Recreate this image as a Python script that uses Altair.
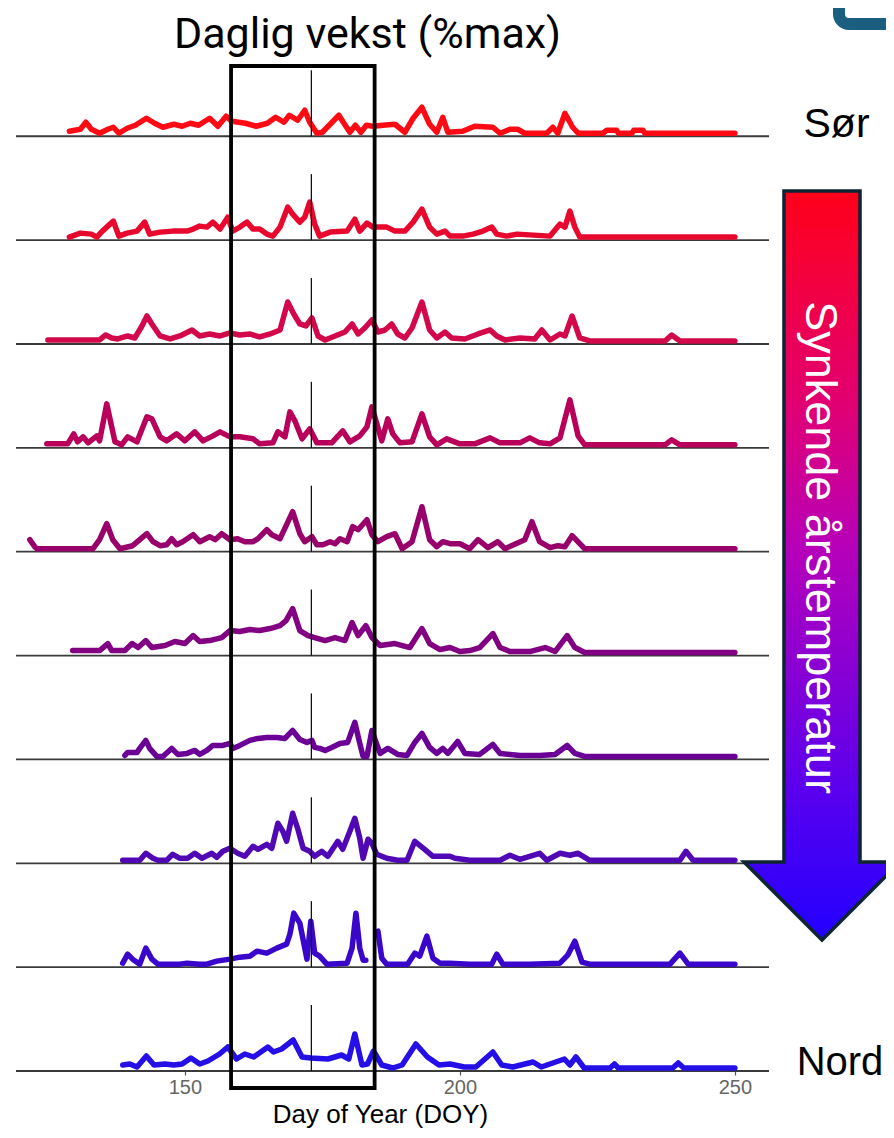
import altair as alt
import pandas as pd

# ---------------- data ----------------
DOY_TICKS = [150, 200, 250]
X_DOMAIN = [119.3, 256.2]
SOLSTICE_DOY = 173
BOX_DOY = [158.4, 184.5]

PANEL_NAMES = ["P1", "P2", "P3", "P4", "P5", "P6", "P7", "P8", "P9", "P10"]
PANEL_COLORS = ["#ff0a14", "#e8082e", "#d2084a", "#b8005a", "#98006c",
                "#820082", "#6a0096", "#5008b4", "#3a06cc", "#2410e6"]

# (day, daily growth [, ribbon half-width])
S1 = [(129,2),(131,4),(132,11),(133,4),(134.5,0),(136,4),(137,6),(138,0),(139.5,5),(141,8),(143,15,4),(144.5,10),(146,6),(148,9),(149.5,7),(151,10),(152.5,8),(154.5,15,7),(156,7),(157.5,17,4),(158.5,12),(161,10),(163,7),(165,10),(166.5,16,4),(168,11),(169,18,5),(170.5,13),(171.8,23,6),(172.7,11),(174,0),(175,1),(178,18,4),(178.8,11),(180,1),(181,8),(182,1),(183,8),(184.2,7),(186,8),(188.2,9),(190,1),(191.5,15),(193.1,26,12),(194.5,9),(195.8,1),(196.9,16,4),(197.8,1),(200.5,2),(202.7,7),(206,6),(207.3,0),(209.1,4),(210.5,4),(211.8,0),(215.8,0),(216.9,6),(217.8,0),(219.1,20,5),(220.5,6),(221.5,0),(226,0),(226.7,3),(228.5,3),(228.8,0),(231.3,0),(231.6,3),(233.3,3),(233.6,0),(250,0)]
S2 = [(129,0),(131,4),(133,3),(134,0),(135,6),(137,16,3),(138,1),(139.5,4),(141.3,6),(142.7,15,3),(143.6,3),(145.5,5),(147.8,6),(150.4,6),(151.5,8),(152.7,11),(154,10),(155.1,15,4),(156.4,8),(157.8,20,4),(158.7,6),(160,10),(161.3,15,4),(162.4,8),(163.6,8),(164.9,3),(166,1),(167.3,10),(168.7,30,12),(169.6,23,6),(170.9,15),(171.8,20,5),(172.7,35,12),(173.6,13),(174.5,1),(176.4,5),(179.5,6),(180.9,18,4),(181.8,6),(183.1,14,4),(184.2,10,4),(186.7,10,4),(188.2,6),(190,6),(191.5,15),(193.1,28,10),(194.5,10),(195.8,3),(197.3,6),(198.2,1),(200.5,1),(202.4,3),(204.2,6),(205.8,10),(206.7,3),(208.5,1),(210.4,3),(216.4,1),(218.2,13),(219.1,10),(220,26,8),(220.9,10),(221.8,0),(250,0)]
S3 = [(125.1,1),(134.5,1),(135.6,6),(136.7,3),(137.8,2),(139.6,5),(140.9,3),(142.2,15),(143.1,25,5),(144,17),(145.5,5),(147.3,2),(149.1,5),(151.3,11),(152.7,5),(154.5,7),(156.4,5),(158.2,8),(160,6),(161.8,7),(163.6,4),(165.5,7),(167.3,11),(168.7,39,6),(169.8,27,5),(170.9,17),(172,15),(173.1,23,4),(174.2,5),(175.5,1),(177.3,5),(179.1,9),(180.4,17,4),(181.5,7),(182.7,13,4),(184,21,5),(185.1,9),(186.4,11),(187.6,17),(188.7,7),(190,3),(191.3,13),(193.1,39,6),(194.5,11),(195.8,3),(197.3,9),(198.5,3),(200.9,2),(203.3,7),(205.5,11),(206.7,5),(208.2,1),(210.9,3),(213.6,2),(214.9,11),(216.4,1),(218.2,7),(219.1,5),(220.4,25,6),(221.8,3),(223.6,0),(237.3,0),(238.5,6),(240,0),(250,0)]
S4 = [(124.9,1),(128.7,1),(129.8,11),(130.5,3),(131.5,8),(132.4,2),(134,9),(134.5,4),(135.8,41,4),(136.7,18),(137.3,3),(138.5,0),(139.6,8),(141.3,3),(143.1,28,3),(144,26),(145.5,8),(146.7,4),(148.5,11),(150,4),(151.8,13),(153.3,4),(155.1,9),(156.4,13,3),(158.2,8),(160,8),(162.4,6),(163.6,1),(166,2),(166.9,13),(168.2,8),(169.1,33,10),(170,24,5),(171.3,6),(172.7,16),(174,2),(176.7,2),(178.7,14),(180,3),(181.8,9),(183.1,18,4),(184,38,6),(184.9,21),(185.8,4),(186.9,26,4),(187.8,11),(189.1,2),(191.3,3),(193.1,31,4),(194.5,8),(195.8,0),(197.6,6),(200,1),(202.7,1),(205.5,7),(207.3,2),(210.9,2),(212.7,7),(214.5,2),(216.4,1),(218.2,7),(220,45,6),(221.5,9),(222.7,0),(237.3,0),(238.5,5),(240,0),(250,0)]
S5 = [(121.8,9),(122.7,2),(123.1,0),(133.3,0),(134.5,9),(135.8,25),(136.9,9),(138.2,0),(140.5,3),(141.8,9),(143.1,15,5),(144.2,7),(145.5,3),(146.7,4),(147.6,10),(148.5,4),(149.6,7),(151.5,14),(152.7,7),(154.5,12),(155.5,9),(156.7,15),(158.2,9),(159.6,10),(160.9,7),(162.4,7),(163.3,10),(164.9,19,4),(165.8,14),(167.3,10),(168.5,24),(169.6,37,4),(170.9,15),(171.8,7),(173.1,12),(174,4),(175.1,4),(176.4,7),(177.3,5),(178.2,10),(179.5,7),(180.5,22,6),(181.5,19,5),(183.1,29,5),(184,14),(185.1,7),(186.7,12,4),(188.2,15),(189.5,0),(191.3,7),(193.1,42,8),(194.5,9),(195.8,2),(196.9,7),(198.2,5),(200,5),(201.8,0),(203.3,9),(205.1,1),(206.9,7),(208.2,0),(211.8,9),(213.1,27,4),(214.5,7),(216.4,1),(217.8,3),(219.1,2),(220.4,13,4),(221.8,5),(222.7,0),(250,0)]
S6 = [(129.6,2),(134.5,2),(136,9),(136.7,2),(139.1,2),(140.4,9),(141.5,5),(142.9,12),(144,5),(146.4,7),(148.2,11),(150,9),(151.5,17),(152.7,11),(154.5,12),(156.7,15),(158.2,22,4),(160,21),(161.8,23),(163.6,22),(165.5,24,4),(167.3,27,4),(168.4,32,4),(169.6,44,4),(170.9,22),(172.4,17),(173.6,15),(175.5,12),(177.3,15),(179.1,12),(180.4,30,4),(181.5,17),(182.9,27,4),(184,15),(185.5,7),(188.2,9),(190.9,5),(193.1,24,3),(194.5,9),(196.4,3),(198.2,5),(200,1),(201.8,2),(203.6,5),(206,19),(207.3,5),(209.1,1),(212.7,1),(215.5,5),(217.3,1),(219.5,17),(220.9,5),(222.7,0),(250,0)]
S7 = [(139.1,1),(139.6,4),(141.3,4),(141.8,8),(142.9,16),(143.6,8),(144.9,0),(146,0),(147.6,8),(148.7,2),(150.4,3),(151.8,6),(152.7,2),(154,6),(155.1,11),(156.9,11),(158.2,13),(158.7,8),(160,11),(161.8,16),(163.3,18,3),(164.9,19,3),(166.7,19,3),(168.2,18),(169.6,26),(170.9,17),(172.2,14,3),(173.1,16),(173.6,9),(174.5,8),(175.5,6),(176.7,9),(178.2,13),(179.6,14),(180.9,34),(181.8,13),(182.4,0),(183.1,0),(184,26),(184.5,18),(185.5,3),(186.9,8),(188.7,2),(190.4,1),(191.8,14),(193.1,23,3),(194.5,9),(195.8,3),(196.9,8),(197.8,3),(199.6,15),(200.9,3),(203.6,2),(206,12),(207.3,3),(210.9,1),(214.5,1),(217.3,2),(219.5,11),(220.9,3),(222.7,0),(250,0)]
S8 = [(138.7,0),(141.8,0),(142.9,7),(144.2,2),(145.1,0),(146.7,0),(147.8,6),(149.1,2),(150.5,2),(151.8,7),(153.1,2),(154.9,7),(155.8,3),(156.9,9),(158.2,12),(159.6,7),(160.9,4),(162.4,14),(163.3,11),(164.9,16),(165.8,12),(166.9,37,8),(167.8,29,5),(168.5,19),(169.6,47,5),(170.5,32,4),(171.5,12),(172.7,9),(173.6,4),(174.9,9),(176,4),(177.8,19),(178.7,11),(180,29),(180.9,42),(181.8,22),(182.4,2),(183.3,21,6),(184,17,5),(184.9,6),(186.7,2),(188.7,0),(190.4,0),(191.8,19),(193.6,11),(195.1,4),(196.9,4),(198.2,4),(199.1,2),(201.8,0),(207.3,0),(209.1,5),(210.9,1),(214.5,7),(215.8,0),(218.2,7),(220,5),(221.5,7),(223.6,0),(240,0),(241.1,9),(242.4,0),(250,0)]
S9 = [(138.7,1),(139.6,10),(140.5,5),(141.8,0),(142.9,16,8),(144,5),(145.1,0),(149.1,0),(150.4,1),(152.7,0),(154,0),(155.8,3),(158.2,5),(160,7),(161.8,8),(163.1,13,4),(164.9,11),(166.7,16,5),(168.5,20,4),(169.1,30),(169.8,51),(170.9,41),(172.2,5),(172.9,43),(173.6,11),(174.5,8),(175.8,0),(179.5,1),(180.4,16),(181.1,51),(181.8,16),(182.4,4),(182.9,4),
      None,
      (185.1,33),(185.8,6),(186.7,0),(190.5,0),(191.8,11),(192.7,8),(194,28,5),(195.1,6),(196.4,1),(198.2,1),(201.8,0),(205.8,0),(206.7,10),(207.8,0),(212.7,0),(218.2,1),(219.6,9),(220.9,23,6),(222.2,2),(223.6,0),(238.2,0),(240,11),(241.5,0),(250,0)]
S10 = [(138.7,3),(140,4),(141.3,1),(143,12,3),(144.4,3),(146.4,4),(148,3),(149.5,4),(151.1,10),(152.7,4),(154.2,7),(156.3,14),(157.8,21,4),(159.4,9),(160.9,14),(162.5,11),(165.1,21,3),(166.1,16),(167.6,19),(169.7,28,4),(171.3,11),(172.9,10),(176,9),(178.5,13),(179.8,9),(180.9,34,4),(182.2,3),(183.2,4),(184.3,17),(185.8,3),(187.8,0),(189.5,3),(192,24,4),(194.1,11),(196.2,3),(198.2,4),(200.8,1),(202.9,1),(206,16,3),(207.6,3),(209.6,1),(213.3,6),(214.8,1),(219,9),(220,3),(221.1,11,3),(222.6,0),(227.3,0),(228.1,4),(228.8,0),(238.7,0),(239.7,5),(240.7,0),(250,0)]

ALL_SERIES = [S1, S2, S3, S4, S5, S6, S7, S8, S9, S10]

# ---------------- layout constants ----------------
PANEL_STEP = 103.86      # vertical distance between panel baselines
VLINE_HEIGHT = 66
LINE_LIFT = 3
PLOT_W, PLOT_H = 753, 1005

rows = []
for i, (name, pts) in enumerate(zip(PANEL_NAMES, ALL_SERIES)):
    base = (9 - i) * PANEL_STEP
    seg = 0
    for p in pts:
        if p is None:
            seg += 1
            continue
        d, v = p[0], p[1]
        s = p[2] if len(p) > 2 else 2.5
        y = base + v + LINE_LIFT
        rows.append(dict(series=name, seg=f"{name}_{seg}", day=d, y=y,
                         lo=y - min(s, 2.5), hi=y + s))
df = pd.DataFrame(rows)

base_df = pd.DataFrame({
    "series": PANEL_NAMES,
    "base": [(9 - i) * PANEL_STEP for i in range(10)],
})
base_df["top"] = base_df["base"] + VLINE_HEIGHT
base_df["x0"] = X_DOMAIN[0]
base_df["x1"] = X_DOMAIN[1]
base_df["vx"] = SOLSTICE_DOY

xs = alt.Scale(domain=X_DOMAIN, nice=False, zero=False)
ys = alt.Scale(domain=[0, PLOT_H], nice=False, zero=False)
cs = alt.Scale(domain=PANEL_NAMES, range=PANEL_COLORS)
xaxis = alt.Axis(values=DOY_TICKS, title=None, grid=False, domain=False,
                 ticks=True, tickColor="#555555", tickSize=4, tickWidth=1.2,
                 labelColor="#666666", labelFont="Liberation Sans",
                 labelFontSize=20, labelPadding=2)

baselines = alt.Chart(base_df).mark_rule(color="#3a3a3a", strokeWidth=1.8).encode(
    x=alt.X("x0:Q", scale=xs, axis=xaxis), x2="x1:Q",
    y=alt.Y("base:Q", scale=ys, axis=None))

ribbon = alt.Chart(df).mark_area(opacity=0.32).encode(
    x=alt.X("day:Q", scale=xs, axis=xaxis),
    y=alt.Y("lo:Q", scale=ys, axis=None), y2="hi:Q",
    color=alt.Color("series:N", scale=cs, legend=None),
    detail="seg:N", order=alt.Order("day:Q"))

lines = alt.Chart(df).mark_line(strokeWidth=5.5, strokeJoin="round", strokeCap="round").encode(
    x=alt.X("day:Q", scale=xs, axis=xaxis),
    y=alt.Y("y:Q", scale=ys, axis=None),
    color=alt.Color("series:N", scale=cs, legend=None),
    detail="seg:N", order=alt.Order("day:Q"))

vlines = alt.Chart(base_df).mark_rule(color="#111111", strokeWidth=1.3).encode(
    x=alt.X("vx:Q", scale=xs, axis=xaxis),
    y=alt.Y("base:Q", scale=ys, axis=None), y2="top:Q")

box_df = pd.DataFrame({"x": [BOX_DOY[0]], "x2": [BOX_DOY[1]], "y": [-17], "y2": [PLOT_H]})
box = alt.Chart(box_df).mark_rect(fillOpacity=0, stroke="black", strokeWidth=3.8).encode(
    x=alt.X("x:Q", scale=xs, axis=xaxis), x2="x2:Q",
    y=alt.Y("y:Q", scale=ys, axis=None), y2="y2:Q")

one = pd.DataFrame({"k": [0]})

ARROW_PATH = ("M-0.1015,-1L0.1015,-1L0.1015,0.7917L0.2083,0.7917L0,1"
              "L-0.2083,0.7917L-0.1015,0.7917Z")
arrow_fill = alt.Gradient(
    gradient="linear", x1=0, y1=0, x2=0, y2=1,
    stops=[alt.GradientStop(color="#ff001a", offset=0),
           alt.GradientStop(color="#e20070", offset=0.28),
           alt.GradientStop(color="#b800b8", offset=0.47),
           alt.GradientStop(color="#5a00ee", offset=0.8),
           alt.GradientStop(color="#2200ff", offset=1)])
arrow = alt.Chart(one).mark_point(
    shape=ARROW_PATH, filled=True, fill=arrow_fill, stroke="#0e2433",
    strokeWidth=3.5, opacity=1, size=561001).encode(
    x=alt.value(806), y=alt.value(499.5))

def label(txt, x, y, size, font="Liberation Sans", color="black", angle=0):
    kw = dict(text=txt, font=font, fontSize=size, color=color,
              align="center", baseline="alphabetic")
    if angle:
        kw["angle"] = angle
    return alt.Chart(one).mark_text(**kw).encode(x=alt.value(x), y=alt.value(y))

arrow_text = label("Synkende årstemperatur", 790, 481.5, 45, color="white", angle=90)
title = label("Daglig vekst (%max)", 351.5, -18, 43, font="Roboto")
sor = label("Sør", 820.5, 71, 41)
nord = label("Nord", 824, 1009, 40)
xtitle = label("Day of Year (DOY)", 364.5, 1057, 26)

corner = alt.Chart(one).mark_rect(fillOpacity=0, stroke="#1b5e80", strokeWidth=12,
                                  cornerRadius=10).encode(
    x=alt.value(823), x2=alt.value(1000), y=alt.value(-150), y2=alt.value(-42))

chart = alt.layer(
    baselines, ribbon, lines, vlines, box, arrow, arrow_text,
    title, sor, nord, xtitle, corner
).properties(
    width=PLOT_W, height=PLOT_H,
    padding={"left": 8, "top": 58, "right": 117, "bottom": 59},
    autosize=alt.AutoSizeParams(type="none"),
    background="white",
).configure_view(stroke=None)

chart.save("out.html", embed_options={"renderer": "svg", "actions": False})
